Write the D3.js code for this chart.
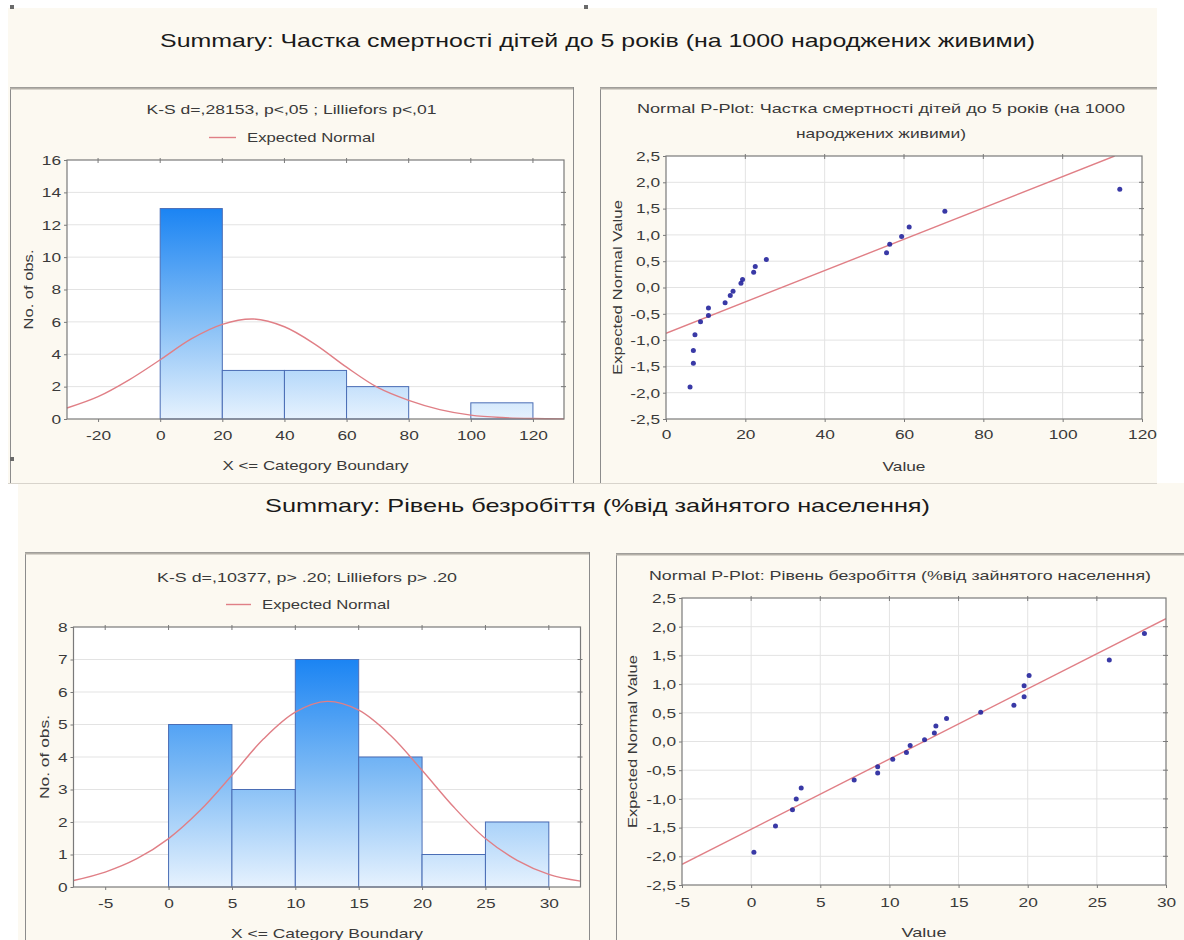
<!DOCTYPE html>
<html><head><meta charset="utf-8">
<script src="https://cdn.jsdelivr.net/npm/d3@7/dist/d3.min.js"></script>
<style>
body{margin:0;background:#fff;}
svg{display:block;font-family:"Liberation Sans",Arial,sans-serif;}
</style>
</head><body>
<svg id="c" width="1184" height="940"></svg>
<script>
// ---------- DATA ----------
// Histogram 1: Частка смертності дітей до 5 років
const mortEdges  = [0, 20, 40, 60, 80, 100, 120];
const mortCounts = [13, 3, 3, 2, 0, 1];
const mortXTicks = [-20, 0, 20, 40, 60, 80, 100, 120];
const mortYTicks = [0, 2, 4, 6, 8, 10, 12, 14, 16];
const mortCurveX = [-30, -20, -10, 0, 10, 20, 30, 40, 50, 60, 70, 80, 90, 100, 110, 120, 130];
const mortCurveY = [0.68, 1.38, 2.42, 3.66, 4.95, 5.85, 6.18, 5.70, 4.60, 3.20, 1.95, 1.15, 0.58, 0.24, 0.09, 0.03, 0.01];

// P-plot 1
const mortPX = [6.06, 6.9, 6.9, 7.3, 8.7, 10.7, 10.7, 14.9, 16.2, 16.9, 18.9, 19.3, 22.1, 22.5, 25.3, 55.6, 56.4, 59.4, 61.3, 70.3, 114.4];
const mortPZ = [-1.89, -1.44, -1.20, -0.90, -0.65, -0.53, -0.39, -0.29, -0.15, -0.07, 0.08, 0.15, 0.29, 0.40, 0.53, 0.66, 0.82, 0.97, 1.15, 1.45, 1.87];
const mortLineX = [0, 113.1];
const mortLineZ = [-0.87, 2.5];
const mortPXTicks = [0, 20, 40, 60, 80, 100, 120];
const zTicks = [-2.5, -2, -1.5, -1, -0.5, 0, 0.5, 1, 1.5, 2, 2.5];

// Histogram 2: Рівень безробіття
const unempEdges  = [0, 5, 10, 15, 20, 25, 30];
const unempCounts = [5, 3, 7, 4, 1, 2];
const unempXTicks = [-5, 0, 5, 10, 15, 20, 25, 30];
const unempYTicks = [0, 1, 2, 3, 4, 5, 6, 7, 8];
const unempCurveX = [-7.5, -5, -2.5, 0, 2.5, 5, 7.5, 10, 12.5, 15, 17.5, 20, 22.5, 25, 27.5, 30, 32.5];
const unempCurveY = [0.20, 0.46, 0.87, 1.49, 2.36, 3.44, 4.56, 5.38, 5.71, 5.44, 4.67, 3.59, 2.46, 1.49, 0.82, 0.39, 0.18];

// P-plot 2
const unempPX = [0.2, 1.76, 2.99, 3.26, 3.62, 7.45, 9.15, 9.15, 10.24, 11.23, 11.5, 12.54, 13.25, 13.36, 14.13, 16.6, 19.0, 19.74, 19.74, 20.1, 25.9, 28.44];
const unempPZ = [-1.93, -1.47, -1.19, -1.0, -0.81, -0.67, -0.55, -0.44, -0.31, -0.19, -0.07, 0.03, 0.15, 0.27, 0.40, 0.51, 0.63, 0.78, 0.97, 1.15, 1.42, 1.88];
const unempLineX = [-5, 30];
const unempLineZ = [-2.14, 2.14];
const unempPXTicks = [-5, 0, 5, 10, 15, 20, 25, 30];

// Texts
const title1 = "Summary: Частка смертності дітей до 5 років (на 1000 народжених живими)";
const title2 = "Summary: Рівень безробіття (%від зайнятого населення)";
const ks1 = "K-S d=,28153, p<,05 ; Lilliefors p<,01";
const ks2 = "K-S d=,10377, p> .20; Lilliefors p> .20";
const pp1Title = ["Normal P-Plot: Частка смертності дітей до 5 років (на 1000", "народжених живими)"];
const pp2Title = ["Normal P-Plot: Рівень безробіття (%від зайнятого населення)"];
const legendLabel = "Expected Normal";

// ---------- STYLE ----------
const CREAM = "#fcf9f1";
const TXT = "#3a3a3a";
const GRID = "#e3e3e3";
const FRAME = "#7a7a7a";
const CURVE = "#e07f86";
const DOT = "#23239c";
const FS = 13.5;       // base font size for panel texts
const STRETCH = 1.28;  // horizontal stretch of the original screenshot text

const svg = d3.select("#c");
const defs = svg.append("defs");

function fit(sel, w) {
  if (w) sel.attr("textLength", w).attr("lengthAdjust", "spacingAndGlyphs");
  return sel;
}
function stretch(sel, k) {
  sel.each(function () {
    const L = this.getComputedTextLength();
    d3.select(this).attr("textLength", L * k).attr("lengthAdjust", "spacingAndGlyphs");
  });
}

// background regions
svg.append("rect").attr("x", 8).attr("y", 8).attr("width", 1149).attr("height", 475).attr("fill", CREAM);
svg.append("rect").attr("x", 18).attr("y", 483).attr("width", 1166).attr("height", 457).attr("fill", CREAM);
svg.append("line").attr("x1", 8).attr("x2", 1157).attr("y1", 483.5).attr("y2", 483.5).attr("stroke", "#d8d4cc");

defs.append("clipPath").attr("id", "clipTop").append("rect").attr("x", 8).attr("y", 8).attr("width", 1149).attr("height", 475);
defs.append("clipPath").attr("id", "clipBot").append("rect").attr("x", 18).attr("y", 484).attr("width", 1166).attr("height", 456);

const gTop = svg.append("g").attr("clip-path", "url(#clipTop)");
const gBot = svg.append("g").attr("clip-path", "url(#clipBot)");

// summary titles
fit(gTop.append("text").attr("x", 597.5).attr("y", 47).attr("text-anchor", "middle")
  .attr("font-size", 19).attr("fill", "#1a1a1a").text(title1), 875);
fit(gBot.append("text").attr("x", 597.5).attr("y", 512).attr("text-anchor", "middle")
  .attr("font-size", 19).attr("fill", "#1a1a1a").text(title2), 665);

// selection handles
[[10, 5], [584, 5], [10, 457]].forEach(p => {
  svg.append("rect").attr("x", p[0]).attr("y", p[1]).attr("width", 4).attr("height", 4).attr("fill", "#6a6a6a");
});

function panel(g, p) {
  g.append("rect").attr("x", p.x + 0.5).attr("y", p.y + 0.5).attr("width", p.w).attr("height", p.h)
    .attr("fill", CREAM).attr("stroke", "#8c8c8c");
  g.append("line").attr("x1", p.x).attr("x2", p.x + p.w).attr("y1", p.y + 1.5).attr("y2", p.y + 1.5)
    .attr("stroke", "#b4b0a8").attr("stroke-width", 2);
}

function styleAxis(a) {
  a.select(".domain").remove();
  a.selectAll(".tick line").attr("stroke", FRAME);
  const t = a.selectAll(".tick text").attr("fill", TXT).attr("font-size", FS)
    .attr("font-family", "Liberation Sans, Arial, sans-serif");
  stretch(t, STRETCH);
}

function frameAndTicks(g, P, x, y, xT, yT, opt) {
  g.append("rect").attr("x", P.l).attr("y", P.t).attr("width", P.r - P.l).attr("height", P.b - P.t)
    .attr("fill", "none").attr("stroke", FRAME).attr("stroke-width", 1.2);
  g.append("g").selectAll("line").data(xT.filter(v => x(v) > P.l + 1 && x(v) < P.r - 1)).join("line")
    .attr("x1", d => x(d)).attr("x2", d => x(d)).attr("y1", P.t - 2).attr("y2", P.t + 3).attr("stroke", FRAME);
  g.append("g").selectAll("line").data(yT.filter(v => y(v) > P.t + 1 && y(v) < P.b - 1)).join("line")
    .attr("y1", d => y(d)).attr("y2", d => y(d)).attr("x1", P.r - 3).attr("x2", P.r + 2).attr("stroke", FRAME);
  const ax = g.append("g").attr("transform", `translate(0,${P.b})`)
    .call(d3.axisBottom(x).tickValues(xT).tickSize(3).tickPadding(opt.xPad).tickFormat(opt.xFmt));
  styleAxis(ax);
  const ay = g.append("g").attr("transform", `translate(${P.l},0)`)
    .call(d3.axisLeft(y).tickValues(yT).tickSize(3).tickPadding(3).tickFormat(opt.yFmt));
  styleAxis(ay);
}

function axisTitles(g, P, xLabel, xLabY, xW, yLabel, yLabX, yW) {
  fit(g.append("text").attr("x", (P.l + P.r) / 2).attr("y", xLabY).attr("text-anchor", "middle")
    .attr("font-size", FS).attr("fill", TXT).text(xLabel), xW);
  fit(g.append("text").attr("transform", `translate(${yLabX},${(P.t + P.b) / 2}) rotate(-90)`)
    .attr("text-anchor", "middle").attr("font-size", FS).attr("fill", TXT).text(yLabel), yW);
}

function histogram(g, cfg) {
  panel(g, cfg.panel);
  const P = cfg.plot;
  const x = d3.scaleLinear().domain(cfg.xDomain).range([P.l, P.r]);
  const y = d3.scaleLinear().domain(cfg.yDomain).range([P.b, P.t]);
  g.append("rect").attr("x", P.l).attr("y", P.t).attr("width", P.r - P.l).attr("height", P.b - P.t).attr("fill", "#fff");
  g.append("g").selectAll("line").data(cfg.yTicks.slice(1, -1)).join("line")
    .attr("x1", P.l).attr("x2", P.r).attr("y1", d => y(d)).attr("y2", d => y(d))
    .attr("stroke", GRID);
  const maxC = d3.max(cfg.counts);
  const grad = defs.append("linearGradient").attr("id", cfg.id).attr("gradientUnits", "userSpaceOnUse")
    .attr("x1", 0).attr("x2", 0).attr("y1", y(maxC)).attr("y2", y(0));
  grad.append("stop").attr("offset", 0).attr("stop-color", "#1b84f3");
  grad.append("stop").attr("offset", 0.5).attr("stop-color", "#7dbaf5");
  grad.append("stop").attr("offset", 1).attr("stop-color", "#e6f2fe");
  const bins = cfg.counts.map((c, i) => ({ x0: cfg.edges[i], x1: cfg.edges[i + 1], c })).filter(d => d.c > 0);
  g.append("g").selectAll("rect").data(bins).join("rect")
    .attr("x", d => x(d.x0)).attr("width", d => x(d.x1) - x(d.x0))
    .attr("y", d => y(d.c)).attr("height", d => y(0) - y(d.c))
    .attr("fill", `url(#${cfg.id})`).attr("stroke", "#4a6db5").attr("stroke-width", 1);
  const line = d3.line().x((d, i) => x(cfg.curveX[i])).y(d => y(d)).curve(d3.curveCatmullRom);
  g.append("path").datum(cfg.curveY).attr("d", line).attr("fill", "none")
    .attr("stroke", CURVE).attr("stroke-width", 1.4);
  frameAndTicks(g, P, x, y, cfg.xTicks, cfg.yTicks, { xPad: cfg.xPad, xFmt: d => String(d), yFmt: d => String(d) });
  const cx = cfg.panel.x + cfg.panel.w / 2;
  fit(g.append("text").attr("x", cx).attr("y", cfg.titleY).attr("text-anchor", "middle")
    .attr("font-size", FS).attr("fill", TXT).text(cfg.title), cfg.titleW);
  g.append("line").attr("x1", cfg.legX[0]).attr("x2", cfg.legX[1]).attr("y1", cfg.legY - 4.5).attr("y2", cfg.legY - 4.5)
    .attr("stroke", CURVE).attr("stroke-width", 1.4);
  fit(g.append("text").attr("x", cfg.legX[1] + 11).attr("y", cfg.legY).attr("font-size", FS).attr("fill", TXT).text(legendLabel), 128);
  axisTitles(g, P, "X <= Category Boundary", cfg.xLabY, cfg.xLabW, "No. of obs.", cfg.yLabX, cfg.yLabW);
}

function pplot(g, cfg) {
  panel(g, cfg.panel);
  const P = cfg.plot;
  const x = d3.scaleLinear().domain(cfg.xDomain).range([P.l, P.r]);
  const y = d3.scaleLinear().domain([-2.5, 2.5]).range([P.b, P.t]);
  g.append("rect").attr("x", P.l).attr("y", P.t).attr("width", P.r - P.l).attr("height", P.b - P.t).attr("fill", "#fff");
  g.append("g").selectAll("line").data(zTicks.slice(1, -1)).join("line")
    .attr("x1", P.l).attr("x2", P.r).attr("y1", d => y(d)).attr("y2", d => y(d)).attr("stroke", GRID);
  g.append("g").selectAll("line").data(cfg.xTicks.slice(1, -1)).join("line")
    .attr("y1", P.t).attr("y2", P.b).attr("x1", d => x(d)).attr("x2", d => x(d)).attr("stroke", GRID);
  const cid = cfg.id + "clip";
  defs.append("clipPath").attr("id", cid).append("rect").attr("x", P.l).attr("y", P.t).attr("width", P.r - P.l).attr("height", P.b - P.t);
  const pl = g.append("g").attr("clip-path", `url(#${cid})`);
  pl.append("line").attr("x1", x(cfg.lineX[0])).attr("x2", x(cfg.lineX[1]))
    .attr("y1", y(cfg.lineZ[0])).attr("y2", y(cfg.lineZ[1])).attr("stroke", CURVE).attr("stroke-width", 1.4);
  const pts = cfg.px.map((v, i) => [v, cfg.pz[i]]);
  g.append("g").selectAll("circle").data(pts).join("circle")
    .attr("cx", d => x(d[0])).attr("cy", d => y(d[1])).attr("r", 2.5).attr("fill", DOT).attr("opacity", 0.9);
  const zf = d => d.toFixed(1).replace(".", ",");
  frameAndTicks(g, P, x, y, cfg.xTicks, zTicks, { xPad: cfg.xPad, xFmt: d => String(d), yFmt: zf });
  cfg.title.forEach((t, i) => {
    fit(g.append("text").attr("x", cfg.titleX).attr("y", cfg.titleY + i * 25).attr("text-anchor", "middle")
      .attr("font-size", FS).attr("fill", TXT).text(t), cfg.titleW[i]);
  });
  axisTitles(g, P, "Value", cfg.xLabY, cfg.xLabW, "Expected Normal Value", cfg.yLabX, cfg.yLabW);
}

histogram(gTop, {
  id: "g1", panel: { x: 10, y: 87, w: 563, h: 420 },
  plot: { l: 67, r: 564, t: 160, b: 419 },
  xDomain: [-30, 130], yDomain: [0, 16],
  edges: mortEdges, counts: mortCounts, xTicks: mortXTicks, yTicks: mortYTicks,
  curveX: mortCurveX, curveY: mortCurveY, xPad: 8,
  title: ks1, titleW: 290, titleY: 114, legX: [209, 236], legY: 142,
  xLabY: 470, xLabW: 186, yLabX: 33, yLabW: 80
});

pplot(gTop, {
  id: "p1", panel: { x: 600, y: 87, w: 560, h: 420 },
  plot: { l: 666, r: 1142, t: 156, b: 419 },
  xDomain: [0, 120], xTicks: mortPXTicks, px: mortPX, pz: mortPZ,
  lineX: mortLineX, lineZ: mortLineZ, xPad: 7,
  title: pp1Title, titleW: [488, 170], titleX: 881, titleY: 113,
  xLabY: 471, xLabW: 43, yLabX: 622, yLabW: 175
});

histogram(gBot, {
  id: "g2", panel: { x: 25, y: 552, w: 564, h: 400 },
  plot: { l: 73.5, r: 580.5, t: 627, b: 887 },
  xDomain: [-7.5, 32.5], yDomain: [0, 8],
  edges: unempEdges, counts: unempCounts, xTicks: unempXTicks, yTicks: unempYTicks,
  curveX: unempCurveX, curveY: unempCurveY, xPad: 8,
  title: ks2, titleW: 300, titleY: 582, legX: [226, 251], legY: 609,
  xLabY: 938, xLabW: 192, yLabX: 49, yLabW: 84
});

pplot(gBot, {
  id: "p2", panel: { x: 616, y: 553, w: 568, h: 400 },
  plot: { l: 682, r: 1166, t: 598, b: 885 },
  xDomain: [-5, 30], xTicks: unempPXTicks, px: unempPX, pz: unempPZ,
  lineX: unempLineX, lineZ: unempLineZ, xPad: 9,
  title: pp2Title, titleW: [502], titleX: 900, titleY: 580,
  xLabY: 937, xLabW: 45, yLabX: 637, yLabW: 173
});
</script>
</body></html>
